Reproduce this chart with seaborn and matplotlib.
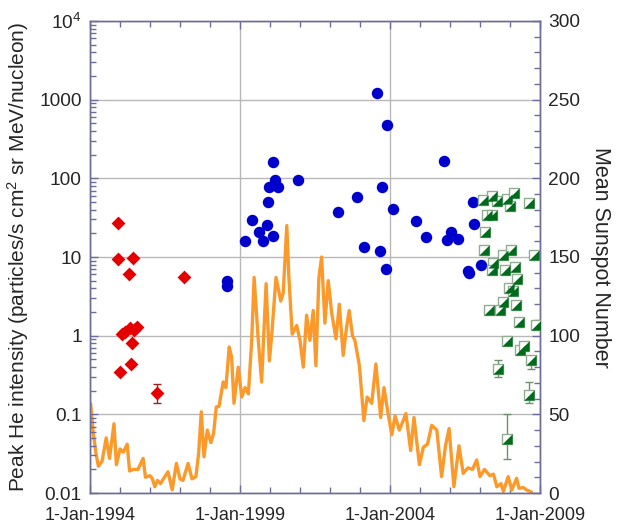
import matplotlib
matplotlib.use('Agg')
import matplotlib.pyplot as plt
from matplotlib.path import Path
from matplotlib.ticker import FixedLocator, FixedFormatter, MultipleLocator, LogLocator, NullFormatter
import seaborn as sns
import numpy as np
import pandas as pd

# ---------------- data ----------------
# Monthly mean sunspot number (right axis)
ssn_year = [1994.02, 1994.11, 1994.2, 1994.28, 1994.4, 1994.54, 1994.65, 1994.8, 1994.88, 1995.0,
            1995.11, 1995.24, 1995.32, 1995.45, 1995.6, 1995.77, 1995.85, 1996.0, 1996.08, 1996.16,
            1996.25, 1996.35, 1996.45, 1996.6, 1996.74, 1996.88, 1997.0, 1997.1, 1997.27, 1997.4,
            1997.53, 1997.62, 1997.71, 1997.8, 1997.91, 1998.03, 1998.12, 1998.21, 1998.3, 1998.44,
            1998.53, 1998.64, 1998.72, 1998.8, 1998.94, 1999.06, 1999.17, 1999.28, 1999.39, 1999.47,
            1999.61, 1999.72, 1999.87, 1999.98, 2000.06, 2000.2, 2000.36, 2000.44, 2000.56, 2000.63,
            2000.74, 2000.89, 2001.0, 2001.11, 2001.22, 2001.33, 2001.44, 2001.53, 2001.63, 2001.72,
            2001.83, 2001.94, 2002.06, 2002.2, 2002.31, 2002.44, 2002.55, 2002.64, 2002.75, 2002.83,
            2002.98, 2003.13, 2003.24, 2003.39, 2003.53, 2003.69, 2003.8, 2003.94, 2004.06, 2004.17,
            2004.31, 2004.44, 2004.53, 2004.69, 2004.8, 2004.98, 2005.11, 2005.25, 2005.39, 2005.56,
            2005.72, 2005.85, 2005.97, 2006.13, 2006.3, 2006.44, 2006.6, 2006.75, 2006.89, 2007.0,
            2007.15, 2007.33, 2007.45, 2007.56, 2007.7, 2007.78, 2007.94, 2008.06, 2008.22, 2008.3,
            2008.44, 2008.55, 2008.67, 2008.72]
ssn_value = [57, 38, 25, 17, 20, 35, 22, 44, 18, 28,
             26, 31, 14, 15, 15, 22, 10, 11, 9, 4,
             8, 6, 9, 13.5, 2, 18.8, 9, 8, 18.8, 9,
             10.4, 25, 51.6, 23, 40, 32, 38, 54.7, 55, 70.6,
             67, 92.8, 86.5, 57, 80, 61, 67, 63, 97, 137,
             97, 70.6, 133, 84, 101, 137, 122, 127, 170, 137,
             101, 106.5, 97, 80, 113, 97, 116, 81, 137, 150,
             108, 135, 114, 98, 120, 87.5, 105, 116, 100, 97,
             81, 46, 61, 57, 82, 48, 67, 50, 37, 49,
             40, 46, 50.5, 27, 48, 18, 29, 31, 43, 40,
             10.4, 30, 41, 4, 30, 12.5, 16, 15, 21, 10.4,
             15, 11, 12, 4, 6, 1, 10.4, 2, 9.3, 3,
             3.5, 2, 1, 0.5]

# Peak He intensity, red diamonds
red_year = [1994.94, 1994.94, 1995.42, 1995.31, 1997.13, 1995.08, 1995.17, 1995.33, 1995.58, 1995.47,
            1995.41, 1995.36, 1995.0, 1996.24]
red_value = [27, 9.4, 9.6, 6.1, 5.6, 1.05, 1.11, 1.25, 1.3, 1.17,
             0.80, 0.44, 0.35, 0.185]
red_err_year = [1996.24]
red_err_value = [0.185]
red_err_low = [0.14]
red_err_high = [0.24]

# blue circles
blue_year = [1998.56, 1998.58, 1999.17, 1999.39, 1999.64, 1999.78, 1999.89, 2000.11, 1999.94, 1999.98,
             2000.17, 2000.28, 2000.09, 2000.94, 2002.26, 2002.89, 2003.13, 2003.58, 2003.89, 2003.73,
             2003.67, 2003.87, 2004.11, 2004.87, 2005.8, 2005.2, 2005.91, 2006.03, 2006.28, 2006.76,
             2006.81, 2006.59, 2006.64, 2007.02]
blue_value = [4.9, 4.3, 16.1, 29.8, 20.5, 15.8, 25.7, 18.6, 50, 77.6,
              94, 77.6, 161, 96, 36.9, 57.8, 13.4, 1200, 470, 77.5,
              11.8, 7.0, 40.7, 28.3, 167, 17.9, 16.3, 20.6, 17.1, 50,
              26.5, 6.7, 6.3, 7.8]

# green half-filled squares
green_year = [2007.09, 2007.39, 2007.58, 2007.89, 2008.13, 2008.0, 2008.63, 2007.22, 2007.41, 2007.17,
              2007.13, 2007.76, 2008.03, 2008.8, 2007.44, 2007.39, 2007.83, 2008.17, 2008.24, 2007.98,
              2008.09, 2007.78, 2008.2, 2007.3, 2007.67, 2008.3, 2008.86, 2007.89, 2008.33, 2008.47,
              2008.69, 2007.59, 2008.64, 2007.91]
green_value = [52.5, 59, 51, 54.6, 65, 44, 48.6, 34.5, 34.5, 20.5,
               12.4, 10.7, 12.4, 10.7, 8.5, 6.9, 6.9, 7.4, 5.3, 4.0,
               3.66, 2.65, 2.43, 2.14, 2.1, 1.49, 1.38, 0.85, 0.66, 0.73,
               0.49, 0.38, 0.174, 0.048]
green_err_year = [2008.69, 2007.59, 2008.64, 2007.91]
green_err_value = [0.49, 0.38, 0.174, 0.048]
green_err_low = [0.38, 0.30, 0.138, 0.027]
green_err_high = [0.55, 0.49, 0.26, 0.10]

x_tick_years = [1994, 1999, 2004, 2009]
x_tick_labels = ['1-Jan-1994', '1-Jan-1999', '1-Jan-2004', '1-Jan-2009']
log_ticks = [0.01, 0.1, 1, 10, 100, 1000, 10000]
log_tick_labels = ['0.01', '0.1', '1', '10', '100', '1000', '$10^4$']
ssn_ticks = [0, 50, 100, 150, 200, 250, 300]

# ---------------- style ----------------
sns.set_theme(style='white')
plt.rcParams['font.family'] = ['Liberation Sans', 'DejaVu Sans']
plt.rcParams['mathtext.fontset'] = 'custom'
plt.rcParams['mathtext.rm'] = 'Liberation Sans'
plt.rcParams['mathtext.it'] = 'Liberation Sans:italic'
plt.rcParams['mathtext.bf'] = 'Liberation Sans:bold'

SPINE = '#6d6d9c'
GRID = '#b8b8b8'
ORANGE = '#fb9a2a'
RED = '#e40000'
BLUE = '#0000cc'
GREEN = '#006b1c'
GREEN_EDGE = '#93ad93'

fig = plt.figure(figsize=(6.19, 5.26), dpi=100)
ax = fig.add_axes([90 / 619, 1 - 493 / 526, 450 / 619, 472 / 526])
ax_log = ax.twinx()

# sunspot line on base (linear) axis
ssn_df = pd.DataFrame({'year': ssn_year, 'ssn': ssn_value})
sns.lineplot(data=ssn_df, x='year', y='ssn', ax=ax, color=ORANGE, lw=2.4,
             estimator=None, sort=False)
ax.set_xlim(1994, 2009)
ax.set_ylim(0, 300)
ax.yaxis.tick_right()
ax.yaxis.set_label_position('right')
ax.yaxis.set_major_locator(FixedLocator(ssn_ticks))
ax.yaxis.set_minor_locator(MultipleLocator(10))
ax.xaxis.set_major_locator(FixedLocator(x_tick_years))
ax.xaxis.set_major_formatter(FixedFormatter(x_tick_labels))
ax.xaxis.set_minor_locator(MultipleLocator(1))
ax.grid(True, which='major', color=GRID, lw=1.0)
ax.set_xlabel('')
ax.set_ylabel('Mean Sunspot Number', rotation=270, fontsize=15.5, va='center', ha='center')
ax.yaxis.set_label_coords((601 - 90) / 450, 0.5)
ax.tick_params(axis='x', which='both', direction='in', top=True, bottom=True, color=SPINE,
               labelsize=13, pad=10)
ax.tick_params(axis='x', which='major', length=6, width=1)
ax.tick_params(axis='x', which='minor', length=4, width=1)
ax.tick_params(axis='y', which='both', direction='in', right=True, left=False, color=SPINE,
               labelsize=13.8, pad=6)
ax.tick_params(axis='y', which='major', length=6, width=1)
ax.tick_params(axis='y', which='minor', length=4, width=1)

# log axis with event markers
ax_log.set_yscale('log')
ax_log.set_ylim(0.01, 1e4)
ax_log.yaxis.tick_left()
ax_log.yaxis.set_label_position('left')

ax_log.errorbar(red_err_year, red_err_value,
                yerr=[np.array(red_err_value) - np.array(red_err_low),
                      np.array(red_err_high) - np.array(red_err_value)],
                fmt='none', ecolor='#a02020', elinewidth=1, capsize=3, capthick=1, zorder=2)
ax_log.errorbar(green_err_year, green_err_value,
                yerr=[np.array(green_err_value) - np.array(green_err_low),
                      np.array(green_err_high) - np.array(green_err_value)],
                fmt='none', ecolor='#6f8f6f', elinewidth=1, capsize=3, capthick=1, zorder=2)

sns.scatterplot(x=red_year, y=red_value, ax=ax_log, marker='D', s=50, color=RED,
                linewidth=0, zorder=3)
sns.scatterplot(x=blue_year, y=blue_value, ax=ax_log, marker='o', s=68, color=BLUE,
                linewidth=0, zorder=3)
sns.scatterplot(x=green_year, y=green_value, ax=ax_log, marker='s', s=62, color='white',
                edgecolor=GREEN_EDGE, linewidth=1.0, zorder=3)
tri = Path([(1, -1), (1, 1), (-1, -1), (1, -1)], [Path.MOVETO, Path.LINETO, Path.LINETO, Path.CLOSEPOLY])
sns.scatterplot(x=green_year, y=green_value, ax=ax_log, marker=tri, s=54, color=GREEN,
                linewidth=0, zorder=4)

ax_log.yaxis.set_major_locator(FixedLocator(log_ticks))
ax_log.yaxis.set_major_formatter(FixedFormatter(log_tick_labels))
ax_log.yaxis.set_minor_locator(LogLocator(base=10, subs=np.arange(2, 10), numticks=20))
ax_log.yaxis.set_minor_formatter(NullFormatter())
ax_log.set_ylabel('Peak He intensity (particles/s cm$^2$ sr MeV/nucleon)', fontsize=15,
                  va='center', ha='center')
ax_log.yaxis.set_label_coords((18 - 90) / 450, 0.5)
ax_log.tick_params(axis='y', which='both', direction='in', left=True, right=False, color=SPINE,
                   labelsize=13.8, pad=6)
ax_log.tick_params(axis='y', which='major', length=6, width=1)
ax_log.tick_params(axis='y', which='minor', length=4, width=1)

for a in (ax, ax_log):
    for s in a.spines.values():
        s.set_color(SPINE)
        s.set_linewidth(1.0)

fig.savefig('out.png', dpi=100)
